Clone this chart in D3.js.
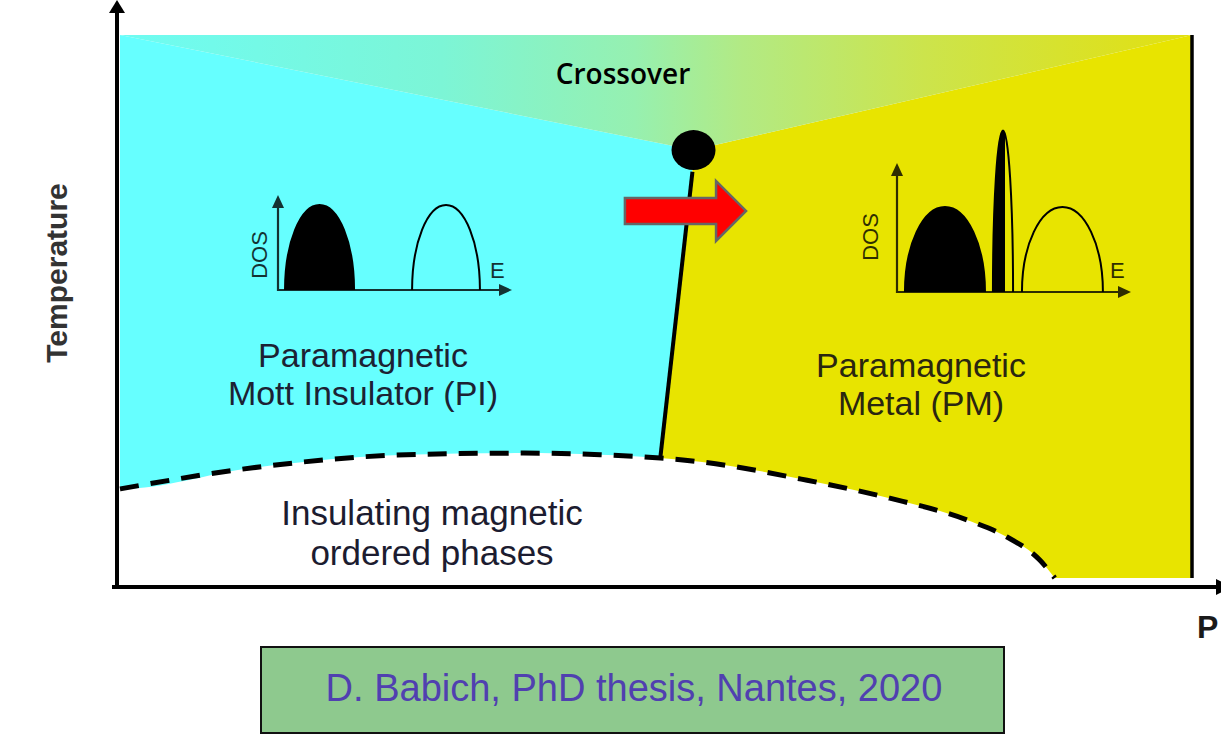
<!DOCTYPE html>
<html><head><meta charset="utf-8">
<script src="https://cdn.jsdelivr.net/npm/d3@7"></script>
<style>html,body{margin:0;padding:0;background:#fff;} svg{display:block;}</style>
</head><body><svg id="c" width="1221" height="740"></svg>
<script>
// ---------- DATA (pressure P in 0..100, temperature T in 0..100) ----------
const magneticBoundary = [[0,16.4],[12.4,20.3],[26.7,22.7],[37.4,23.0],[44.8,22.7],[50.4,22.1],[54.1,21.4],[64.1,18.0],[71.8,14.7],[79.0,10.7],[82.7,7.6],[85.8,3.3],[87.2,0]];
const firstOrderLine = [[50.4,22.1],[53.4,74.8]];
const criticalPoint = [53.5,78.8];
const crossoverWedge = [[0,100],[100,100],[53.5,78.8]];
const metalEdgeP = [100];
const arrowP = [47.1,58.4];
const arrowT = [67.6];
// DOS insets: bands (energy lo..hi, height) and Fermi level
const insulatorBands = [{lo:0.3,hi:3.25,h:1.0},{lo:5.73,hi:8.63,h:1.0}];
const insulatorEF = [4.5];
const metalBands = [{lo:0.34,hi:3.76,h:1.0},{lo:4.1,hi:4.96,h:1.9},{lo:5.34,hi:8.8,h:1.0}];
const metalEF = [4.62];
// texts
const axisLabels = ["Temperature","P"];
const crossoverLabel = ["Crossover"];
const insulatorLabel = ["Paramagnetic","Mott Insulator (PI)"];
const metalLabel = ["Paramagnetic","Metal (PM)"];
const orderedLabel = ["Insulating magnetic","ordered phases"];
const citation = ["D. Babich, PhD thesis, Nantes, 2020"];

// ---------- LAYOUT ----------
const svg = d3.select("#c");
const x = d3.scaleLinear().domain([0,100]).range([120,1192]);
const y = d3.scaleLinear().domain([0,100]).range([578,35]);
const pt = d => [x(d[0]), y(d[1])];
const poly = pts => "M" + pts.map(p => pt(p).join(",")).join("L") + "Z";

const defs = svg.append("defs");
const grad = defs.append("linearGradient").attr("id","cross").attr("gradientUnits","userSpaceOnUse")
  .attr("x1",x(0)).attr("x2",x(100)).attr("y1",0).attr("y2",0);
[[0,"#6efcf2"],[0.3,"#7cf5d6"],[0.48,"#96f0b0"],[0.58,"#b2ea84"],[0.75,"#cce44c"],[1,"#e2e010"]]
  .forEach(s => grad.append("stop").attr("offset",s[0]).attr("stop-color",s[1]));

// phase regions
const lineTop = firstOrderLine[1], lineBot = firstOrderLine[0];
svg.append("path").attr("d", poly([[0,0],[0,100],criticalPoint,lineTop,lineBot,[lineBot[0],0]])).attr("fill","#66ffff");
svg.append("path").attr("d", poly([[lineBot[0],0],lineBot,lineTop,criticalPoint,[100,100],[100,0]])).attr("fill","#e8e400");
svg.append("path").attr("d", poly(crossoverWedge)).attr("fill","url(#cross)");

// ordered phase (white) under the dashed boundary
const area = d3.area().x(d=>x(d[0])).y0(y(0)).y1(d=>y(d[1])).curve(d3.curveMonotoneX);
svg.append("path").datum([[-1,magneticBoundary[0][1]],...magneticBoundary]).attr("d",area).attr("fill","#fff");
const line = d3.line().x(d=>x(d[0])).y(d=>y(d[1])).curve(d3.curveMonotoneX);
svg.append("path").datum(magneticBoundary).attr("d",line).attr("fill","none")
  .attr("stroke","#000").attr("stroke-width",5).attr("stroke-dasharray","19 12");

// first order line + critical point
svg.append("path").datum(firstOrderLine).attr("d",d3.line().x(d=>x(d[0])).y(d=>y(d[1])))
  .attr("stroke","#000").attr("stroke-width",4).attr("fill","none");
svg.append("ellipse").attr("cx",x(criticalPoint[0])).attr("cy",y(criticalPoint[1])).attr("rx",22).attr("ry",20).attr("fill","#000");

// right boundary line
svg.append("line").attr("x1",x(metalEdgeP[0])).attr("x2",x(metalEdgeP[0])).attr("y1",y(100)).attr("y2",y(0))
  .attr("stroke","#000").attr("stroke-width",3.5);

// red arrow
{
  const x0 = x(arrowP[0]), x1 = x(arrowP[1]), yc = y(arrowT[0]);
  const hb = x1 - 30;
  const p = [[x0,yc-13],[hb,yc-13],[hb,yc-30],[x1,yc],[hb,yc+30],[hb,yc+13],[x0,yc+13]];
  svg.append("path").attr("d","M"+p.map(q=>q.join(",")).join("L")+"Z")
    .attr("fill","#ff0000").attr("stroke","#666").attr("stroke-width",2.5).attr("stroke-linejoin","miter");
}

// axes
svg.append("line").attr("x1",117).attr("x2",117).attr("y1",587).attr("y2",8).attr("stroke","#000").attr("stroke-width",4);
svg.append("path").attr("d","M117,0L125,13L109,13Z").attr("fill","#000");
svg.append("line").attr("x1",112).attr("x2",1221).attr("y1",587).attr("y2",587).attr("stroke","#000").attr("stroke-width",4);
svg.append("path").attr("d","M1232,587L1216,579L1216,595Z").attr("fill","#000");

// DOS insets
function inset(ox, oy, axisH, bands, ef, dosX, dosY, eX, eY, id){
  const g = svg.append("g");
  const ex = d3.scaleLinear().domain([0,10]).range([ox, ox+234]);
  const dy = d3.scaleLinear().domain([0,1]).range([oy, oy-85]);
  const ax = g.append("g").attr("opacity",0.8);
  ax.append("line").attr("x1",ox).attr("x2",ox).attr("y1",oy+1).attr("y2",oy-axisH+10).attr("stroke","#000").attr("stroke-width",2.2);
  ax.append("path").attr("d",`M${ox},${oy-axisH}L${ox+6},${oy-axisH+13}L${ox-6},${oy-axisH+13}Z`).attr("fill","#000");
  ax.append("line").attr("x1",ox-1).attr("x2",ex(10)-8).attr("y1",oy).attr("y2",oy).attr("stroke","#000").attr("stroke-width",2.2);
  ax.append("path").attr("d",`M${ex(10)},${oy}L${ex(10)-13},${oy-6}L${ex(10)-13},${oy+6}Z`).attr("fill","#000");
  ax.append("text").attr("transform",`translate(${dosX},${dosY}) rotate(-90)`).attr("text-anchor","middle")
    .attr("font-family","Liberation Sans, Arial, sans-serif").attr("font-size",22).text("DOS");
  ax.append("text").attr("x",eX).attr("y",eY).attr("font-family","Liberation Sans, Arial, sans-serif").attr("font-size",22).text("E");
  const clip = defs.append("clipPath").attr("id",id);
  clip.append("rect").attr("x",ox-5).attr("y",oy-300).attr("width",ex(ef[0])-ox+5).attr("height",310);
  bands.forEach(b=>{
    const rx=(ex(b.hi)-ex(b.lo))/2, ry=dy(0)-dy(b.h);
    const d=`M${ex(b.lo)},${oy}A${rx},${ry} 0 0 1 ${ex(b.hi)},${oy}Z`;
    g.append("path").attr("d",d).attr("fill","#000").attr("clip-path",`url(#${id})`);
    g.append("path").attr("d",`M${ex(b.lo)},${oy}A${rx},${ry} 0 0 1 ${ex(b.hi)},${oy}`).attr("fill","none").attr("stroke","#000").attr("stroke-width",2);
  });
}
inset(278,290,95,insulatorBands,insulatorEF,267,255,490,278,"clipI");
inset(897,292,129,metalBands,metalEF,878,237,1110,278,"clipM");

// texts
const font = "Liberation Sans, Arial, sans-serif";
svg.append("text").attr("transform","translate(67,273) rotate(-90)").attr("text-anchor","middle")
  .attr("font-family",font).attr("font-weight","bold").attr("font-size",30).attr("fill","#333").text(axisLabels[0]);
svg.append("text").attr("x",1197).attr("y",638).attr("font-family",font).attr("font-weight","bold").attr("font-size",32).attr("fill","#1a1a1a").text(axisLabels[1]);
svg.append("text").attr("x",623).attr("y",84).attr("text-anchor","middle").attr("font-family","Open Sans, sans-serif")
  .attr("font-weight",600).attr("font-size",28).attr("fill","#000").text(crossoverLabel[0]);
function block(lines, cx, y0, dy, size, color){
  lines.forEach((t,i)=>svg.append("text").attr("x",cx).attr("y",y0+i*dy).attr("text-anchor","middle")
    .attr("font-family",font).attr("font-size",size).attr("fill",color).text(t));
}
block(insulatorLabel,363,367,38,34,"#1c2233");
block(metalLabel,921,377,38,34,"#2a2610");
block(orderedLabel,432,525,40,35,"#1c1c30");

// citation box
svg.append("rect").attr("x",261).attr("y",647).attr("width",743).attr("height",86).attr("fill","#8ec98e").attr("stroke","#111").attr("stroke-width",2);
svg.append("text").attr("x",634).attr("y",701).attr("text-anchor","middle").attr("font-family",font)
  .attr("font-size",38).attr("fill","#5040b0").text(citation[0]);
</script></body></html>
